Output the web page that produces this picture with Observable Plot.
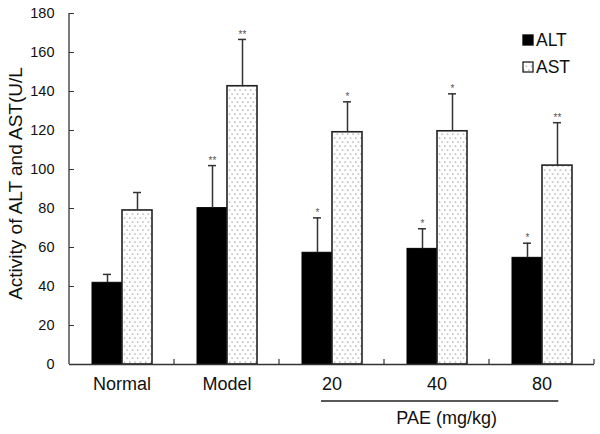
<!DOCTYPE html>
<html><head><meta charset="utf-8">
<script src="https://cdn.jsdelivr.net/npm/d3@7"></script>
<script src="https://cdn.jsdelivr.net/npm/@observablehq/plot@0.6"></script>
<style>
body{margin:0;background:#fff}
#chart{width:600px;height:434px}
</style>
</head><body><div id="chart"></div>
<script>
const groups = ["Normal", "Model", "20", "40", "80"];
const series = ["ALT", "AST"];
const altMean = [41.9, 80.2, 57.3, 59.3, 54.7];
const altSD   = [4.3, 21.8, 17.9, 10.3, 7.5];
const astMean = [79.0, 142.7, 119.1, 119.6, 102.0];
const astSD   = [9.2, 24.0, 15.6, 19.2, 22.0];
const altSig  = ["", "**", "*", "*", "*"];
const astSig  = ["", "**", "*", "*", "**"];
const yTicks  = [0, 20, 40, 60, 80, 100, 120, 140, 160, 180];
const yLabel  = "Activity of ALT and AST(U/L";
const doseGroups = ["20", "40", "80"];
const doseLabel  = "PAE (mg/kg)";

const rows = [];
groups.forEach((g, i) => {
  rows.push({group: g, series: "ALT", mean: altMean[i], top: altMean[i] + altSD[i], sig: altSig[i]});
  rows.push({group: g, series: "AST", mean: astMean[i], top: astMean[i] + astSD[i], sig: astSig[i]});
});
const altRows = rows.filter(d => d.series === "ALT");
const astRows = rows.filter(d => d.series === "AST");

const FONT = "'Liberation Sans', Arial, sans-serif";

const plot = Plot.plot({
  width: 600, height: 434,
  marginLeft: 68, marginRight: 4.5, marginTop: 13, marginBottom: 70,
  style: {fontFamily: FONT, background: "white", color: "#111"},
  fx: {domain: groups, padding: 0, label: null},
  x: {domain: series, paddingInner: 0, paddingOuter: 0.72, axis: null},
  y: {domain: [0, 180]},
  marks: [
    Plot.barY(altRows, {fx: "group", x: "series", y: "mean", fill: "black", stroke: "black", strokeWidth: 1}),
    Plot.barY(astRows, {fx: "group", x: "series", y: "mean", fill: "url(#dots)", stroke: "#222", strokeWidth: 1.6}),
    Plot.ruleX(rows, {fx: "group", x: "series", y1: "mean", y2: "top", stroke: "#333", strokeWidth: 1.5}),
    Plot.tickY(rows, {fx: "group", x: "series", y: "top", stroke: "#333", strokeWidth: 1.5, inset: 11}),
    Plot.text(rows, {fx: "group", x: "series", y: "top", text: "sig", dy: -5, fontSize: 10, fill: "#555"}),
    Plot.ruleY([0], {stroke: "#333", strokeWidth: 1.3}),
    Plot.axisY({ticks: yTicks, tickSize: -5, tickPadding: 20, fontSize: 14.5, label: null, stroke: "#333"}),
    Plot.axisFx({anchor: "bottom", tickSize: 0, tickPadding: 13, fontSize: 18, label: null})
  ]
});

const svg = d3.select(plot);
const defs = svg.insert("defs", ":first-child");
const pat = defs.append("pattern").attr("id", "dots").attr("patternUnits", "userSpaceOnUse")
  .attr("width", 5.3).attr("height", 8);
pat.append("rect").attr("width", 5.3).attr("height", 8).attr("fill", "white");
pat.append("rect").attr("x", 1).attr("y", 1.5).attr("width", 1.2).attr("height", 1.2).attr("fill", "#8a8a8a");
pat.append("rect").attr("x", 3.65).attr("y", 5.5).attr("width", 1.2).attr("height", 1.2).attr("fill", "#8a8a8a");

const fx = plot.scale("fx");
const y = plot.scale("y");
const bw = fx.bandwidth;
const y0 = y.apply(0), yTop = y.apply(180);
const left = fx.apply(groups[0]);
const extra = svg.append("g").attr("font-family", FONT);

// y axis line
extra.append("line").attr("x1", left).attr("x2", left).attr("y1", y0).attr("y2", yTop)
  .attr("stroke", "#333").attr("stroke-width", 1.3);
// group boundary ticks
groups.forEach(g => {
  const xb = fx.apply(g) + bw;
  extra.append("line").attr("x1", xb).attr("x2", xb).attr("y1", y0).attr("y2", y0 - 5)
    .attr("stroke", "#333").attr("stroke-width", 1.2);
});
// y label
extra.append("text").attr("transform", "rotate(-90)")
  .attr("x", -(y0 + yTop) / 2 + 5).attr("y", 21.5)
  .attr("text-anchor", "middle").attr("font-size", 19).attr("fill", "#111").text(yLabel);
// PAE underline and label
const lx1 = fx.apply(doseGroups[0]) + bw * 0.40;
const lx2 = fx.apply(doseGroups[doseGroups.length - 1]) + bw * 0.66;
extra.append("line").attr("x1", lx1).attr("x2", lx2).attr("y1", y0 + 37).attr("y2", y0 + 37)
  .attr("stroke", "#222").attr("stroke-width", 1.3);
extra.append("text").attr("x", (lx1 + lx2) / 2 + 7).attr("y", y0 + 60)
  .attr("text-anchor", "middle").attr("font-size", 18).attr("fill", "#111").text(doseLabel);
// legend
const legend = extra.append("g");
series.forEach((s, i) => {
  const yy = 35 + i * 27;
  legend.append("rect").attr("x", 523).attr("y", yy).attr("width", 10).attr("height", 10)
    .attr("fill", i === 0 ? "black" : "url(#dots)").attr("stroke", i === 0 ? "black" : "#222").attr("stroke-width", 1.3);
  legend.append("text").attr("x", 536).attr("y", yy + 11).attr("text-anchor", "start")
    .attr("font-size", 17.5).attr("fill", "#111").text(s);
});

document.getElementById("chart").appendChild(plot);
</script>
</body></html>
